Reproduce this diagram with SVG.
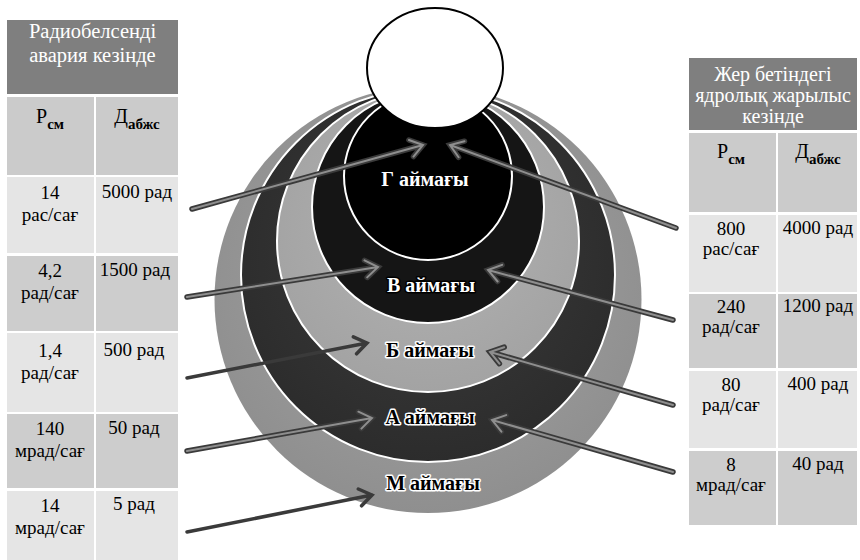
<svg xmlns="http://www.w3.org/2000/svg" xmlns:xlink="http://www.w3.org/1999/xlink" width="860" height="560" viewBox="0 0 860 560">
  <style>
    text { font-family: 'Liberation Serif', 'Times New Roman', serif; }
    .t { fill: #000; font-size: 19px; text-anchor: middle; }
    .hd { fill: #fff; font-size: 20.5px; text-anchor: middle; }
    .hd2 { fill: #fff; font-size: 20px; text-anchor: middle; }
    .sym { font-size: 20px; }
    .sub { font-size: 15px; font-weight: bold; }
    .hdr { fill: #7f7f7f; }
    .c0 { fill: #cbcbcb; }
    .c1 { fill: #e5e5e5; }
    .c2 { fill: #cdcdcd; }
    .zl { font-size: 20px; font-weight: bold; text-anchor: middle; paint-order: stroke; stroke-linejoin: round; }
    .onDark { fill: #fff; stroke: #000; stroke-width: 3px; }
    .onLight { fill: #000; stroke: #fff; stroke-width: 3px; }
    .ring { stroke: #fff; stroke-width: 2; }
    .aOut { fill: none; stroke: #3a3a3a; stroke-width: 5.5; stroke-linecap: round; stroke-linejoin: miter; }
    .aIn { fill: none; stroke: #8e8e8e; stroke-width: 2; stroke-linecap: round; stroke-linejoin: miter; }
    .aOne { fill: none; stroke: #3a3a3a; stroke-width: 3.5; stroke-linecap: round; stroke-linejoin: miter; }
  </style>
  <defs>
    <radialGradient id="gM" cx="0.5" cy="0.45" r="0.55">
      <stop offset="0" stop-color="#a6a6a6"/>
      <stop offset="1" stop-color="#8f8f8f"/>
    </radialGradient>
    <radialGradient id="gA" cx="0.5" cy="0.45" r="0.55">
      <stop offset="0" stop-color="#3c3c3c"/>
      <stop offset="1" stop-color="#2c2c2c"/>
    </radialGradient>
    <radialGradient id="gB" cx="0.5" cy="0.45" r="0.55">
      <stop offset="0" stop-color="#b3b3b3"/>
      <stop offset="1" stop-color="#a3a3a3"/>
    </radialGradient>
    <!-- arrow geometry: shaft, then open chevron at the tip -->
    <path id="pLG" d="M192 209 L423 145 M408.9 140 L423 145 L413.5 156.6"/>
    <path id="pLV" d="M187 297 L378 267 M364.5 260.4 L378 267 L367.2 277.4"/>
    <path id="pLB" d="M187 378 L367 343 M353.3 336.9 L367 343 L356.6 353.8"/>
    <path id="pLA" d="M187 451 L372 418 M358.4 411.7 L372 418 L361.4 428.6"/>
    <path id="pLM" d="M187 532 L372 495 M358.3 489 L372 495 L361.6 505.8"/>
    <path id="pRG" d="M676 228 L450 145 M458.6 157.3 L450 145 L464.5 141.2"/>
    <path id="pRV" d="M673 320 L488 270 M497.6 281.5 L488 270 L502.1 264.9"/>
    <path id="pRB" d="M673 405 L490 352 M499.4 363.7 L490 352 L504.2 347.2"/>
    <path id="pRA" d="M673 472 L492 420 M501.4 431.7 L492 420 L506.2 415.1"/>
  </defs>

  <rect width="860" height="560" fill="#fff"/>

  <!-- left table: accident at a radioactive facility -->
  <g id="table-left">
    <rect class="hdr" x="7" y="20" width="171" height="74"/>
    <text class="hd" x="92.5" y="38">Радиобелсенді</text>
    <text class="hd" x="92.5" y="62">авария кезінде</text>

    <rect class="c0" x="7" y="97" width="87" height="78"/>
    <rect class="c0" x="96" y="97" width="82" height="78"/>
    <text class="t" x="50" y="123"><tspan class="sym">Р</tspan><tspan class="sub" dy="6">см</tspan></text>
    <text class="t" x="137" y="123"><tspan class="sym">Д</tspan><tspan class="sub" dy="6">абжс</tspan></text>

    <rect class="c1" x="7" y="177" width="87" height="76"/>
    <rect class="c1" x="96" y="177" width="82" height="76"/>
    <text class="t" x="50" y="199">14</text>
    <text class="t" x="50" y="221">рас/сағ</text>
    <text class="t" x="137" y="198">5000 рад</text>

    <rect class="c2" x="7" y="256" width="87" height="75"/>
    <rect class="c2" x="96" y="256" width="82" height="75"/>
    <text class="t" x="50" y="277">4,2</text>
    <text class="t" x="50" y="299">рад/сағ</text>
    <text class="t" x="135" y="276">1500 рад</text>

    <rect class="c1" x="7" y="333" width="87" height="79"/>
    <rect class="c1" x="96" y="333" width="82" height="79"/>
    <text class="t" x="50" y="357">1,4</text>
    <text class="t" x="50" y="379">рад/сағ</text>
    <text class="t" x="134" y="356">500 рад</text>

    <rect class="c2" x="7" y="414" width="87" height="74"/>
    <rect class="c2" x="96" y="414" width="82" height="74"/>
    <text class="t" x="50" y="435">140</text>
    <text class="t" x="50" y="457">мрад/сағ</text>
    <text class="t" x="134" y="434">50 рад</text>

    <rect class="c1" x="7" y="491" width="87" height="69"/>
    <rect class="c1" x="96" y="491" width="82" height="69"/>
    <text class="t" x="50" y="512">14</text>
    <text class="t" x="50" y="534">мрад/сағ</text>
    <text class="t" x="134" y="510">5 рад</text>
  </g>

  <!-- right table: surface nuclear explosion -->
  <g id="table-right">
    <rect class="hdr" x="689" y="58" width="168" height="72"/>
    <text class="hd2" x="773" y="81">Жер бетіндегі</text>
    <text class="hd2" x="773" y="102">ядролық жарылыс</text>
    <text class="hd2" x="773" y="123">кезінде</text>

    <rect class="c0" x="689" y="133" width="87" height="79"/>
    <rect class="c0" x="778" y="133" width="79" height="79"/>
    <text class="t" x="731" y="158"><tspan class="sym">Р</tspan><tspan class="sub" dy="6">см</tspan></text>
    <text class="t" x="818" y="158"><tspan class="sym">Д</tspan><tspan class="sub" dy="6">абжс</tspan></text>

    <rect class="c1" x="689" y="215" width="87" height="77"/>
    <rect class="c1" x="778" y="215" width="79" height="77"/>
    <text class="t" x="731" y="235">800</text>
    <text class="t" x="731" y="255">рас/сағ</text>
    <text class="t" x="818" y="234">4000 рад</text>

    <rect class="c2" x="689" y="294" width="87" height="74"/>
    <rect class="c2" x="778" y="294" width="79" height="74"/>
    <text class="t" x="731" y="313">240</text>
    <text class="t" x="731" y="333">рад/сағ</text>
    <text class="t" x="818" y="312">1200 рад</text>

    <rect class="c1" x="689" y="371" width="87" height="77"/>
    <rect class="c1" x="778" y="371" width="79" height="77"/>
    <text class="t" x="731" y="391">80</text>
    <text class="t" x="731" y="411">рад/сағ</text>
    <text class="t" x="818" y="390">400 рад</text>

    <rect class="c2" x="689" y="451" width="87" height="74"/>
    <rect class="c2" x="778" y="451" width="79" height="74"/>
    <text class="t" x="731" y="471">8</text>
    <text class="t" x="731" y="491">мрад/сағ</text>
    <text class="t" x="818" y="470">40 рад</text>
  </g>

  <!-- nested zones, outermost first; all nearly tangent just under the source -->
  <g id="zone-M">
    <circle cx="428" cy="299.5" r="213.5" fill="url(#gM)"/>
  </g>
  <g id="zone-A">
    <circle class="ring" cx="428" cy="275" r="187" fill="url(#gA)"/>
  </g>
  <g id="zone-B">
    <circle class="ring" cx="428" cy="241" r="151" fill="url(#gB)"/>
  </g>
  <g id="zone-V">
    <circle class="ring" cx="428" cy="207" r="116" fill="#151515"/>
  </g>
  <g id="zone-G">
    <circle class="ring" cx="428" cy="176" r="84" fill="#000" stroke-width="1.5"/>
  </g>
  <g id="source">
    <ellipse cx="435" cy="68" rx="68" ry="60" fill="#fff" stroke="#000" stroke-width="2"/>
  </g>

  <g id="zone-labels">
    <text class="zl onDark" x="425" y="186">Г аймағы</text>
    <text class="zl onDark" x="431" y="292">В аймағы</text>
    <text class="zl onLight" x="430" y="357">Б аймағы</text>
    <text class="zl onLight" x="430" y="424">А аймағы</text>
    <text class="zl onLight" x="433" y="490">М аймағы</text>
  </g>

  <g id="connectors">
    <use xlink:href="#pLG" class="aOut"/><use xlink:href="#pLG" class="aIn"/>
    <use xlink:href="#pLV" class="aOut"/><use xlink:href="#pLV" class="aIn"/>
    <use xlink:href="#pLB" class="aOne"/>
    <use xlink:href="#pLA" class="aOut"/><use xlink:href="#pLA" class="aIn"/>
    <use xlink:href="#pLM" class="aOne"/>
    <use xlink:href="#pRG" class="aOut"/><use xlink:href="#pRG" class="aIn"/>
    <use xlink:href="#pRV" class="aOut"/><use xlink:href="#pRV" class="aIn"/>
    <use xlink:href="#pRB" class="aOut"/><use xlink:href="#pRB" class="aIn"/>
    <use xlink:href="#pRA" class="aOut"/><use xlink:href="#pRA" class="aIn"/>
  </g>
</svg>
